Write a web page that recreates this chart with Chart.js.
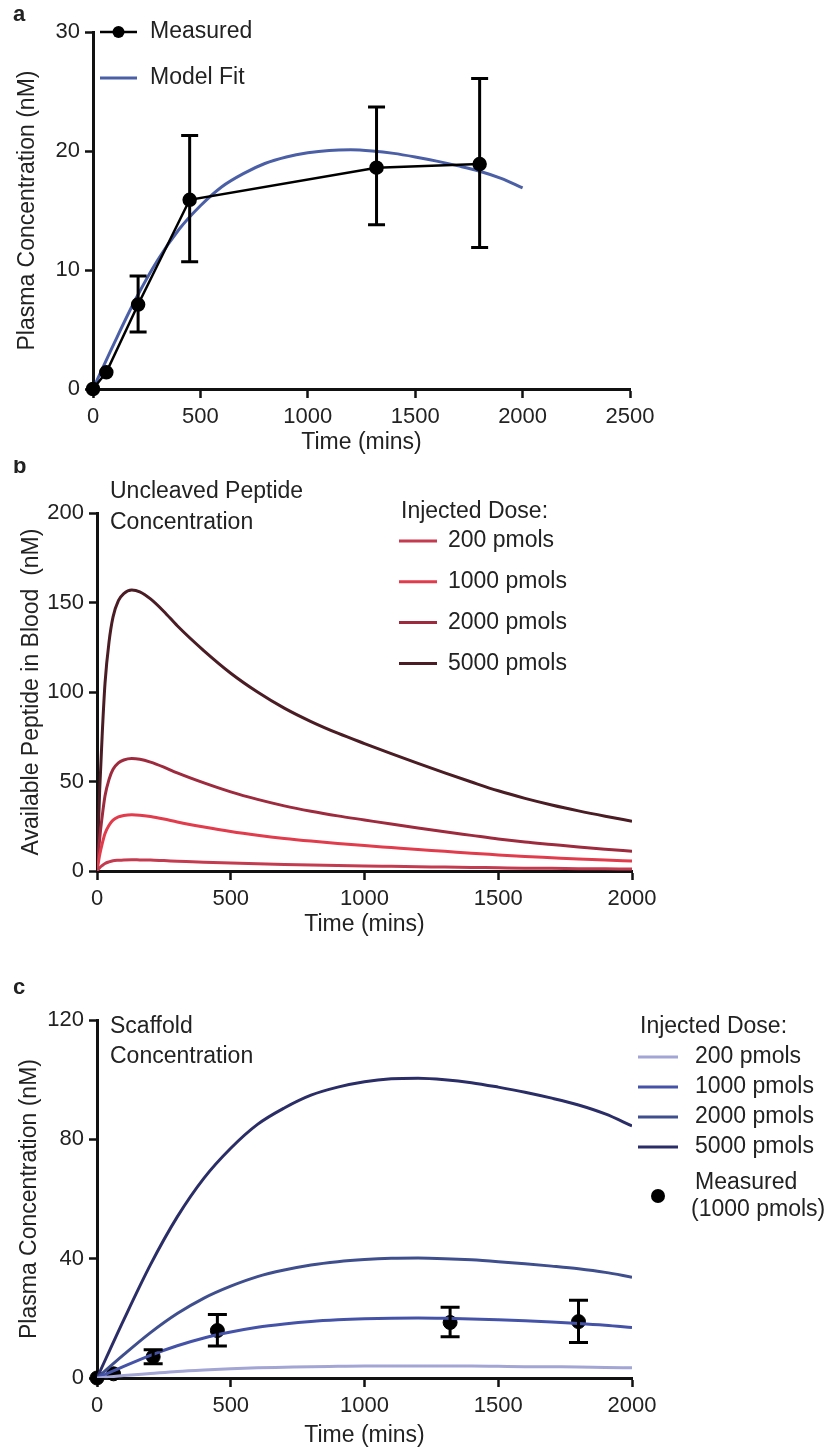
<!DOCTYPE html>
<html lang="en">
<head>
<meta charset="UTF-8">
<title>Peptide and scaffold plasma concentration</title>
<script src="https://cdn.jsdelivr.net/npm/chart.js"></script>
<style>
  body { margin: 0; background: #fff; }
  .panel { position: absolute; left: 0; width: 834px; }
</style>
</head>
<body>
<div class="panel" style="top:0;height:460px"><canvas id="chartA"></canvas></div>
<div class="panel" style="top:460px;height:500px"><canvas id="chartB"></canvas></div>
<div class="panel" style="top:960px;height:489px"><canvas id="chartC"></canvas></div>
<script>
// ---- data ----
// measured plasma concentration, 1000 pmols injected (mean, error bar ends)
const measuredTime = [0, 62, 210, 450, 1320, 1800];
const measuredConc = [0, 1.4, 7.1, 15.9, 18.6, 18.9];
const measuredLow  = [null, null, 4.8, 10.7, 13.8, 11.9];
const measuredHigh = [null, null, 9.5, 21.3, 23.7, 26.1];

// model fit (panel a) and scaffold curves (panel c) share this time grid
const fitTime = [0, 100, 200, 300, 400, 500, 600, 700, 800, 900, 1000,
                 1100, 1200, 1300, 1400, 1500, 1600, 1700, 1800, 1900, 2000];
const fitConc = [0, 3.9, 7.6, 10.8, 13.4, 15.4, 17.0, 18.1, 18.95, 19.5, 19.85,
                 20.05, 20.1, 20.0, 19.8, 19.5, 19.15, 18.75, 18.3, 17.7, 16.9];

const doseLabels = ['200 pmols', '1000 pmols', '2000 pmols', '5000 pmols'];

// panel b - uncleaved peptide available in blood (nM)
const peptideTime = [0, 10, 20, 30, 45, 60, 80, 100, 130, 160, 200, 250, 300,
                     400, 500, 600, 700, 800, 900, 1000, 1100, 1200, 1300, 1400,
                     1500, 1600, 1700, 1800, 1900, 2000];
const peptide200  = [0, 1.8, 3.1, 4.2, 5.1, 5.7, 6.0, 6.2, 6.3, 6.2, 6.1, 5.8, 5.5,
                     4.9, 4.4, 4.0, 3.6, 3.3, 3.1, 2.8, 2.6, 2.4, 2.2, 2.0, 1.8, 1.6, 1.5, 1.3, 1.2, 1.1];
const peptide1000 = [0, 9, 15.6, 21, 25.6, 28.4, 30.2, 31, 31.4, 31.2, 30.4, 29, 27.4,
                     24.6, 22.1, 20.0, 18.2, 16.7, 15.4, 14.2, 13.1, 12.0, 11.0, 9.9, 9.0, 8.1, 7.4, 6.7, 6.1, 5.6];
const peptide2000 = [0, 18, 31.2, 42, 51.2, 56.8, 60.4, 62, 62.8, 62.4, 60.8, 58, 54.8,
                     49.2, 44.2, 40.0, 36.4, 33.4, 30.8, 28.5, 26.2, 24.0, 21.9, 19.9, 17.9, 16.2, 14.8, 13.4, 12.2, 11.1];
const peptide5000 = [0, 45, 78, 105, 128, 142, 151, 155, 157, 156, 152, 145, 137,
                     123, 110.5, 100, 91, 83.5, 77, 71.2, 65.6, 60.1, 54.8, 49.7, 44.8, 40.6, 36.9, 33.6, 30.6, 27.8];

// panel c - scaffold plasma concentration (nM)
const scaffold200  = [0, 0.8, 1.5, 2.2, 2.7, 3.1, 3.4, 3.6, 3.8, 3.9, 4.0,
                      4.0, 4.0, 4.0, 4.0, 3.9, 3.8, 3.75, 3.7, 3.5, 3.4];
const scaffold1000 = [0, 3.9, 7.6, 10.8, 13.4, 15.4, 17.0, 18.1, 18.95, 19.5, 19.85,
                      20.05, 20.1, 20.0, 19.8, 19.5, 19.15, 18.75, 18.3, 17.7, 16.9];
const scaffold2000 = [0, 7.8, 15.2, 21.6, 26.8, 30.8, 34, 36.2, 37.9, 39, 39.7,
                      40.1, 40.2, 40, 39.6, 39, 38.3, 37.5, 36.6, 35.4, 33.8];
const scaffold5000 = [0, 19.5, 38, 54, 67, 77, 85, 90.5, 94.8, 97.5, 99.3,
                      100.3, 100.5, 100, 99, 97.5, 95.8, 93.8, 91.5, 88.5, 84.5];

// ---- helpers ----
const FONT = '"Liberation Sans", Arial, sans-serif';
const TXT = 23;
const pts = (xs, ys) => xs.map((x, i) => ({ x: x, y: ys[i] }));

function curve(label, t, v, color, width) {
  return { label: label, data: pts(t, v), borderColor: color, backgroundColor: color,
           borderWidth: width || 3, pointRadius: 0, cubicInterpolationMode: 'monotone', fill: false };
}

function scaleOpts(axis, min, max, step, title, size, titlePad) {
  return {
    type: 'linear', min: min, max: max,
    ticks: { stepSize: step, color: '#222', padding: axis === 'x' ? 6 : 5,
             font: { family: FONT, size: 22 }, maxRotation: 0,
             callback: v => String(v) },
    grid: { display: true, drawOnChartArea: false, drawTicks: true,
            tickLength: axis === 'x' ? 9 : 8, tickWidth: 2.5, tickColor: '#111' },
    border: { display: true, color: '#111', width: 3 },
    title: { display: true, text: title, color: '#222',
             font: { family: FONT, size: TXT, lineHeight: 1.2 }, padding: titlePad },
    afterFit: s => { if (axis === 'x') s.height = size; else s.width = size; }
  };
}

// error bars, text notes, panel letter and legend drawn from chart options
const extras = {
  id: 'extras',
  afterDatasetsDraw(chart, args, o) {
    const ctx = chart.ctx, xs = chart.scales.x, ys = chart.scales.y;
    ctx.save();
    if (o.errors) {
      ctx.strokeStyle = '#000'; ctx.lineWidth = 3;
      measuredTime.forEach((t, i) => {
        if (measuredLow[i] === null) return;
        const px = xs.getPixelForValue(t);
        const lo = ys.getPixelForValue(measuredLow[i]);
        const hi = ys.getPixelForValue(measuredHigh[i]);
        const w = o.errors.cap / 2;
        ctx.beginPath();
        ctx.moveTo(px, lo); ctx.lineTo(px, hi);
        ctx.moveTo(px - w, lo); ctx.lineTo(px + w, lo);
        ctx.moveTo(px - w, hi); ctx.lineTo(px + w, hi);
        ctx.stroke();
      });
    }
    ctx.fillStyle = '#222';
    ctx.textBaseline = 'middle';
    ctx.textAlign = 'left';
    if (o.letter) {
      ctx.font = 'bold 22px ' + FONT;
      ctx.fillText(o.letter.text, o.letter.x, o.letter.y);
    }
    ctx.font = TXT + 'px ' + FONT;
    if (o.note) o.note.lines.forEach((s, i) => ctx.fillText(s, o.note.x, o.note.y + i * o.note.gap));
    const lg = o.legend;
    if (lg) {
      if (lg.heading) ctx.fillText(lg.heading, lg.headX, lg.headY);
      lg.rows.forEach((r, i) => {
        const ds = chart.data.datasets[r.ds];
        const y = lg.y + i * lg.gap + (r.dy || 0);
        if (r.kind !== 'point') {
          ctx.strokeStyle = ds.borderColor; ctx.lineWidth = ds.borderWidth;
          ctx.beginPath(); ctx.moveTo(lg.x, y); ctx.lineTo(lg.x + lg.len, y); ctx.stroke();
        }
        if (r.kind !== 'line') {
          ctx.fillStyle = '#000';
          ctx.beginPath(); ctx.arc(lg.x + lg.len / 2, y, ds.pointRadius, 0, Math.PI * 2); ctx.fill();
        }
        ctx.fillStyle = '#222';
        if (r.kind === 'point') {
          const parts = ds.label.split(' (');
          ctx.fillText(parts[0], lg.textX, y - 13);
          ctx.fillText('(' + parts[1], lg.textX - 4, y + 14);
        } else {
          ctx.fillText(ds.label, lg.textX, y);
        }
      });
    }
    ctx.restore();
  }
};

function makeChart(id, datasets, opts) {
  return new Chart(document.getElementById(id), {
    type: 'line',
    data: { datasets: datasets },
    options: {
      responsive: true, maintainAspectRatio: false, animation: false,
      layout: { padding: opts.padding },
      plugins: { legend: { display: false }, tooltip: { enabled: false }, extras: opts.extras },
      scales: { x: opts.x, y: opts.y }
    },
    plugins: [extras]
  });
}

// ---- panel a ----
makeChart('chartA', [
  { label: 'Measured', data: pts(measuredTime, measuredConc), borderColor: '#000',
    backgroundColor: '#000', borderWidth: 2.5, pointRadius: 6, pointHoverRadius: 6,
    tension: 0, clip: false },
  curve('Model Fit', fitTime, fitConc, '#4b5fa6', 3)
], {
  padding: { top: 32, right: 204, bottom: 0, left: 0 },
  x: scaleOpts('x', 0, 2500, 500, 'Time (mins)', 71, { top: 0, bottom: 4 }),
  y: scaleOpts('y', 0, 30, 10, 'Plasma Concentration (nM)', 93, { top: 14, bottom: 0 }),
  extras: {
    errors: { cap: 17 },
    letter: { text: 'a', x: 13, y: 15 },
    legend: { x: 100, len: 37, textX: 150, y: 32, gap: 46,
              rows: [{ ds: 0, kind: 'linePoint' }, { ds: 1, kind: 'line' }] }
  }
});

// ---- panel b ----
const redColors = ['#c43a4e', '#e23b4b', '#9e2a3e', '#4a1c24'];
makeChart('chartB', [
  curve(doseLabels[0], peptideTime, peptide200, redColors[0]),
  curve(doseLabels[1], peptideTime, peptide1000, redColors[1]),
  curve(doseLabels[2], peptideTime, peptide2000, redColors[2]),
  curve(doseLabels[3], peptideTime, peptide5000, redColors[3])
], {
  padding: { top: 53, right: 202, bottom: 0, left: 0 },
  x: scaleOpts('x', 0, 2000, 500, 'Time (mins)', 89, { top: 0, bottom: 22 }),
  y: scaleOpts('y', 0, 200, 50, 'Available Peptide in Blood  (nM)', 97, { top: 18, bottom: 0 }),
  extras: {
    letter: { text: 'b', x: 13, y: 7 },
    note: { lines: ['Uncleaved Peptide', 'Concentration'], x: 110, y: 32, gap: 31 },
    legend: { heading: 'Injected Dose:', headX: 401, headY: 52,
              x: 399, len: 38, textX: 448, y: 81, gap: 40.8,
              rows: [{ ds: 0 }, { ds: 1 }, { ds: 2 }, { ds: 3 }] }
  }
});

// ---- panel c ----
const blueColors = ['#a3a5d4', '#4453a8', '#3f4f8e', '#2b2d66'];
makeChart('chartC', [
  curve(doseLabels[0], fitTime, scaffold200, blueColors[0]),
  curve(doseLabels[1], fitTime, scaffold1000, blueColors[1]),
  curve(doseLabels[2], fitTime, scaffold2000, blueColors[2]),
  curve(doseLabels[3], fitTime, scaffold5000, blueColors[3]),
  { label: 'Measured (1000 pmols)', data: pts(measuredTime, measuredConc), showLine: false,
    borderColor: '#000', backgroundColor: '#000', pointRadius: 7, pointHoverRadius: 7, clip: false }
], {
  padding: { top: 60, right: 202, bottom: 0, left: 0 },
  x: scaleOpts('x', 0, 2000, 500, 'Time (mins)', 71, { top: 0, bottom: 0 }),
  y: scaleOpts('y', 0, 120, 40, 'Plasma Concentration (nM)', 97, { top: 16, bottom: 0 }),
  extras: {
    errors: { cap: 19 },
    letter: { text: 'c', x: 13, y: 28 },
    note: { lines: ['Scaffold', 'Concentration'], x: 110, y: 67, gap: 30 },
    legend: { heading: 'Injected Dose:', headX: 640, headY: 67,
              x: 638, len: 40, textX: 695, y: 97, gap: 30,
              rows: [{ ds: 0 }, { ds: 1 }, { ds: 2 }, { ds: 3 }, { ds: 4, kind: 'point', dy: 19 }] }
  }
});
</script>
</body>
</html>
